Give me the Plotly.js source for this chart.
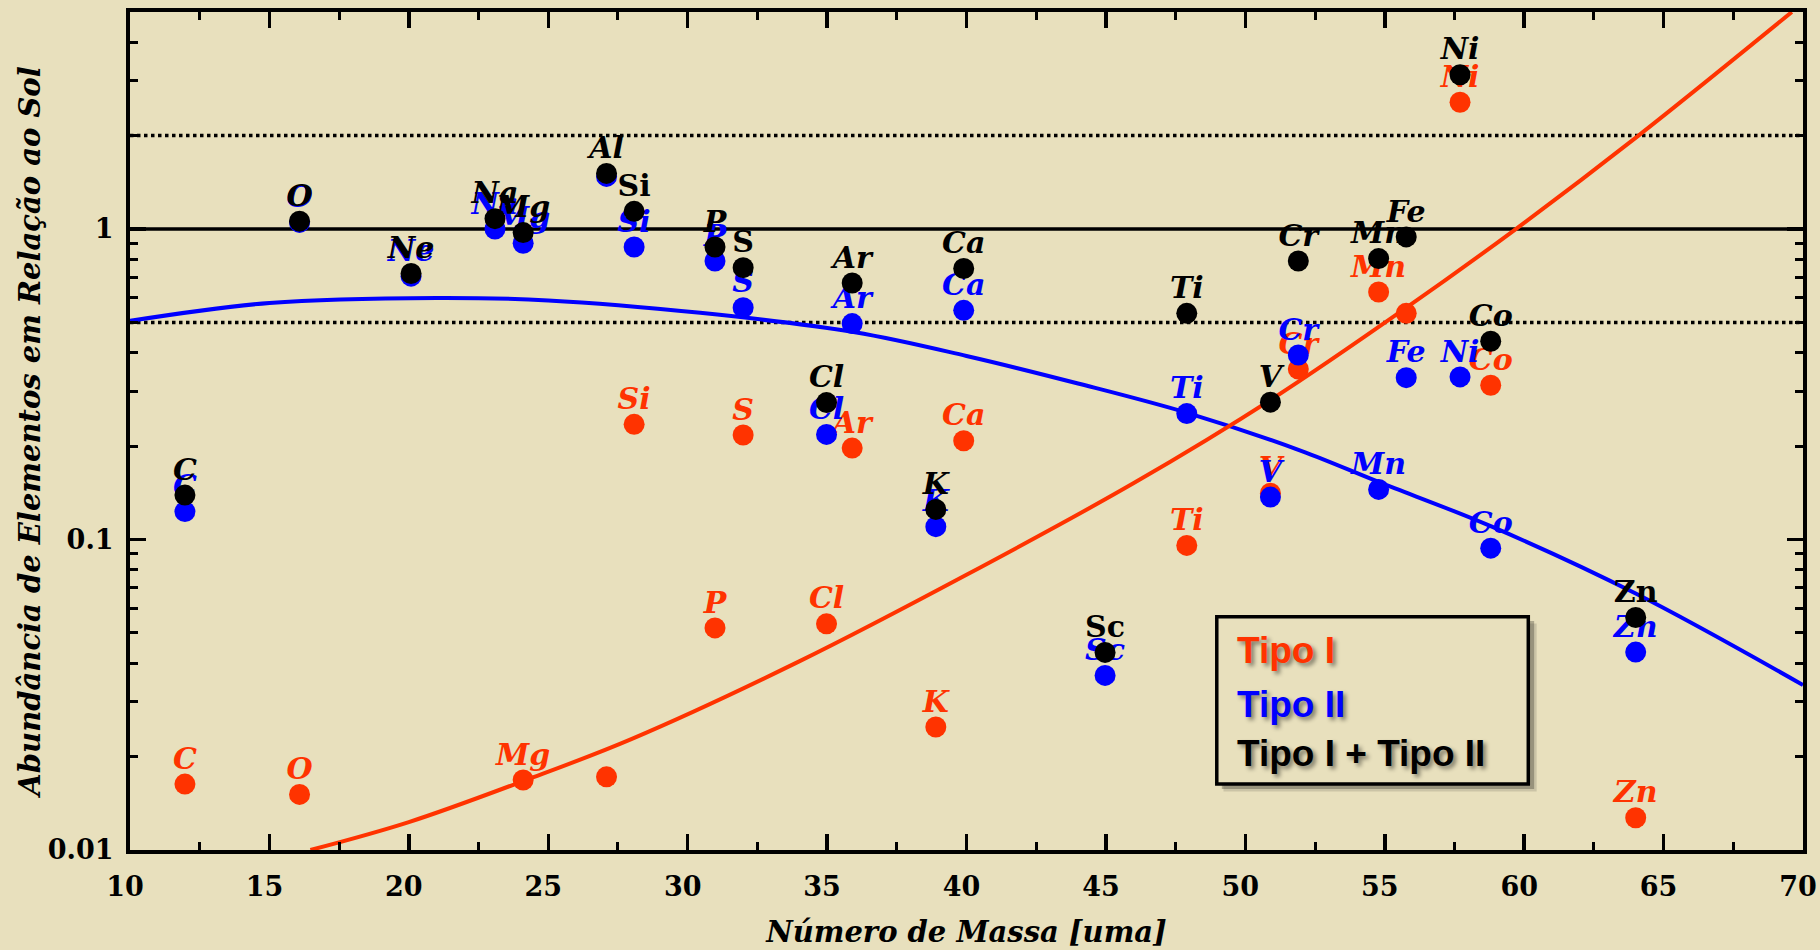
<!DOCTYPE html>
<html><head><meta charset="utf-8">
<script src="https://cdn.plot.ly/plotly-3.0.1.min.js"></script>
<style>html,body{margin:0;padding:0;background:#e8e0bd;} #chart{width:1820px;height:950px;}</style>
</head><body><div id="chart"></div>
<script>
// ---- data ----
const seriesNames = ['Tipo I', 'Tipo II', 'Tipo I + Tipo II'];

const tipo1Labels = ['C','O','Mg','','Si','P','S','Cl','Ar','K','Ca','Ti','V','Cr','Mn','','Ni','Co','Zn'];
const tipo1Mass   = [11.97,16.08,24.1,27.09,28.08,30.98,31.99,34.98,35.9,38.9,39.9,47.9,50.9,51.9,54.78,55.77,57.7,58.8,64.0];
const tipo1Abund  = [0.0163,0.0151,0.0168,0.0172,0.235,0.0519,0.217,0.0535,0.197,0.0249,0.208,0.0957,0.141,0.354,0.627,0.535,2.56,0.314,0.0127];

const tipo2Labels = ['C','O','Ne','Na','Mg','','Si','P','S','Cl','Ar','K','Ca','Sc','Ti','V','Cr','Mn','Fe','Ni','Co','Zn'];
const tipo2Mass   = [11.97,16.08,20.08,23.09,24.1,27.09,28.08,30.98,31.99,34.98,35.9,38.9,39.9,44.97,47.9,50.9,51.9,54.78,55.77,57.7,58.8,64.0];
const tipo2Abund  = [0.123,1.05,0.705,1.0,0.90,1.477,0.875,0.789,0.558,0.218,0.496,0.110,0.547,0.0365,0.2545,0.137,0.393,0.145,0.332,0.334,0.0938,0.0434];

const totalLabels = ['C','O','Ne','Na','Mg','Al','Si','P','S','Cl','Ar','K','Ca','Sc','Ti','V','Cr','Mn','Fe','Ni','Co','Zn'];
const totalMass   = [11.97,16.08,20.08,23.09,24.1,27.09,28.08,30.98,31.99,34.98,35.9,38.9,39.9,44.97,47.9,50.9,51.9,54.78,55.77,57.7,58.8,64.0];
const totalAbund  = [0.139,1.06,0.719,1.08,0.974,1.51,1.14,0.875,0.751,0.276,0.67,0.125,0.746,0.0433,0.535,0.277,0.789,0.803,0.943,3.14,0.435,0.0561];

// fitted curves as drawn in the reference
const curveIMass   = [16.47,20,24.2,28,34,40,46,51,55.8,59.7,64.1,69.6];
const curveIAbund  = [0.01,0.0123,0.0168,0.0228,0.0405,0.077,0.152,0.285,0.56,1.0,2.0,5.0];
const curveIIMass  = [10,15,21,25,30.45,36,40,44,48,52,54.8,58.8,64,70];
const curveIIAbund = [0.506,0.578,0.600,0.589,0.537,0.465,0.39,0.318,0.2545,0.193,0.153,0.1104,0.067,0.034];

const solidLevels  = [1];
const dottedLevels = [2, 0.5];

const yTickVals = [0.01, 0.1, 1];
const yTickText = ['0.01', '0.1', '1'];

// black labels that the reference sets upright rather than italic
const uprightBlack = ['Si', 'S', 'Sc', 'Zn'];

// ---- styling ----
const RED = '#ff3300', BLUE = '#0000ff', BLACK = '#000000';
const BG = '#e8e0bd';
const labelFont = (c, st) => ({family: 'DejaVu Serif', size: 30, color: c, weight: 'bold', style: st || 'italic'});
const MS = 21;

function labelTrace(x, y, t, c, st) {
  return {x: x, y: y, text: t, type: 'scatter', mode: 'markers+text',
    marker: {size: 11, color: 'rgba(0,0,0,0)'}, textposition: 'top center',
    textfont: labelFont(c, st), hoverinfo: 'skip', showlegend: false, cliponaxis: false};
}
function dotTrace(x, y, c, name) {
  return {x: x, y: y, type: 'scatter', mode: 'markers', name: name,
    marker: {size: MS, color: c, line: {width: 0}}, hoverinfo: 'skip', showlegend: false, cliponaxis: false};
}

const blackStyles = totalLabels.map(l => uprightBlack.includes(l) ? 'normal' : 'italic');

const traces = [
  {x: curveIIMass, y: curveIIAbund, type: 'scatter', mode: 'lines', line: {color: BLUE, width: 4, shape: 'spline', smoothing: 1}, hoverinfo: 'skip', showlegend: false},
  {x: curveIMass, y: curveIAbund, type: 'scatter', mode: 'lines', line: {color: RED, width: 4, shape: 'spline', smoothing: 1}, hoverinfo: 'skip', showlegend: false},
  labelTrace(tipo1Mass, tipo1Abund, tipo1Labels, RED),
  dotTrace(tipo1Mass, tipo1Abund, RED, seriesNames[0]),
  labelTrace(tipo2Mass, tipo2Abund, tipo2Labels, BLUE),
  dotTrace(tipo2Mass, tipo2Abund, BLUE, seriesNames[1]),
  labelTrace(totalMass, totalAbund, totalLabels, BLACK, blackStyles),
  dotTrace(totalMass, totalAbund, BLACK, seriesNames[2])
];

const shapes = [];
solidLevels.forEach(v => shapes.push({type: 'line', xref: 'paper', yref: 'y', x0: 0, x1: 1, y0: v, y1: v, layer: 'below', line: {color: BLACK, width: 3.5}}));
dottedLevels.forEach(v => shapes.push({type: 'line', xref: 'paper', yref: 'y', x0: 0, x1: 1, y0: v, y1: v, layer: 'below', line: {color: BLACK, width: 3.5, dash: 'dot'}}));

// legend box (drawn as shapes + annotations so that each entry keeps its own colour)
const LB = {x0: 0.6496, x1: 0.8358, y0: 0.0788, y1: 0.2784};
shapes.push({type: 'rect', xref: 'paper', yref: 'paper', x0: LB.x0 + 0.004, x1: LB.x1 + 0.005, y0: LB.y0 - 0.009, y1: LB.y1 - 0.008, line: {width: 0}, fillcolor: 'rgba(0,0,0,0.12)', layer: 'above'});
shapes.push({type: 'rect', xref: 'paper', yref: 'paper', x0: LB.x0 + 0.003, x1: LB.x1 + 0.0035, y0: LB.y0 - 0.006, y1: LB.y1 - 0.005, line: {width: 0}, fillcolor: 'rgba(0,0,0,0.25)', layer: 'above'});
shapes.push({type: 'rect', xref: 'paper', yref: 'paper', x0: LB.x0, x1: LB.x1, y0: LB.y0, y1: LB.y1, line: {color: BLACK, width: 3.5}, fillcolor: BG, layer: 'above'});

const legendColors = [RED, BLUE, BLACK];
const legendY = [0.2378, 0.1742, 0.1146];
const annotations = seriesNames.map((n, i) => ({
  text: n, xref: 'paper', yref: 'paper', x: 0.6603, y: legendY[i], xanchor: 'left', yanchor: 'middle',
  showarrow: false,
  font: {family: 'Liberation Sans', size: 37, color: legendColors[i], weight: 'bold', shadow: '3px 3px 4px rgba(0,0,0,0.45)'}
}));

const axisCommon = {
  showline: true, linecolor: BLACK, linewidth: 4, mirror: 'ticks',
  ticks: 'inside', ticklen: 16, tickwidth: 3.5, tickcolor: BLACK,
  showgrid: false, zeroline: false, ticklabeloverflow: 'allow',
  tickfont: {family: 'DejaVu Serif', size: 27, color: BLACK, weight: 'bold'}
};

const layout = {
  width: 1820, height: 950,
  paper_bgcolor: BG, plot_bgcolor: BG,
  margin: {l: 130, r: 17, t: 12, b: 100, pad: 0},
  showlegend: false,
  xaxis: Object.assign({}, axisCommon, {
    range: [10, 70], tick0: 10, dtick: 5, ticklabelstandoff: 10, ticklabelshift: -5,
    minor: {dtick: 2.5, ticks: 'inside', ticklen: 8, tickwidth: 3, tickcolor: BLACK, showgrid: false},
    title: {text: 'Número de Massa [uma]', standoff: 21,
      font: {family: 'DejaVu Serif', size: 29, color: BLACK, weight: 'bold', style: 'italic'}}
  }),
  yaxis: Object.assign({}, axisCommon, {
    type: 'log', range: [-2, Math.log10(5)], tickmode: 'array', tickvals: yTickVals, ticktext: yTickText,
    ticklabelstandoff: 7,
    minor: {dtick: 'D1', ticks: 'inside', ticklen: 8, tickwidth: 3, tickcolor: BLACK, showgrid: false},
    title: {text: 'Abundância de Elementos em Relação ao Sol', standoff: 0,
      font: {family: 'DejaVu Serif', size: 29, color: BLACK, weight: 'bold', style: 'italic'}}
  }),
  shapes: shapes,
  annotations: annotations,
  hovermode: false
};

Plotly.newPlot('chart', traces, layout, {staticPlot: true, displayModeBar: false});
</script>
</body></html>
